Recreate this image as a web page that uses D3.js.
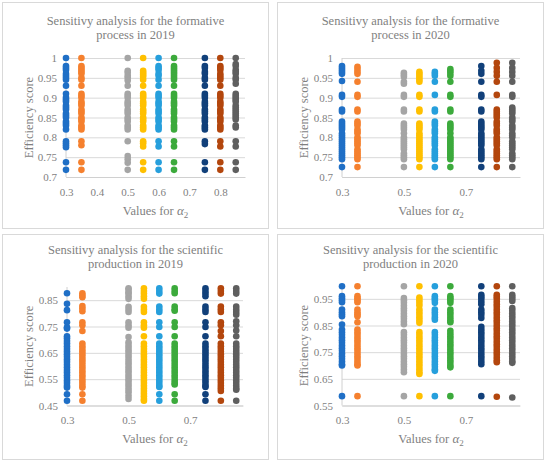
<!DOCTYPE html>
<html>
<head>
<meta charset="utf-8">
<script src="https://cdn.jsdelivr.net/npm/d3@7"></script>
<style>
  body { margin: 0; background: #fff; }
  svg text { font-family: "Liberation Serif", "Times New Roman", serif; fill: #7f7f7f; }
</style>
</head>
<body>
<svg width="550" height="466"></svg>
<script>
  // alpha_2 values, one column of points per value
  const alphaValues = [0.3, 0.35, 0.5, 0.55, 0.6, 0.65, 0.75, 0.8, 0.85];
  const seriesColors = ['#1f6fc6', '#f5802e', '#a5a5a5', '#ffc000', '#269fdc', '#3caa3c', '#11407a', '#b3460d', '#5f5f5f'];

  const formative2019 = [
    [1, 0.98, 0.975, 0.97, 0.96, 0.955, 0.95, 0.945, 0.93, 0.91, 0.9, 0.895, 0.89, 0.88, 0.875, 0.87, 0.86, 0.855, 0.85, 0.84, 0.835, 0.83, 0.82, 0.79, 0.785, 0.78, 0.775, 0.737, 0.718],
    [1, 0.98, 0.975, 0.97, 0.965, 0.96, 0.95, 0.945, 0.93, 0.91, 0.905, 0.9, 0.89, 0.885, 0.88, 0.87, 0.865, 0.86, 0.85, 0.845, 0.84, 0.83, 0.825, 0.82, 0.79, 0.78, 0.737, 0.718],
    [1, 0.968, 0.963, 0.955, 0.95, 0.943, 0.93, 0.91, 0.905, 0.9, 0.89, 0.885, 0.88, 0.87, 0.865, 0.86, 0.85, 0.845, 0.84, 0.83, 0.825, 0.82, 0.79, 0.753, 0.745, 0.736, 0.718],
    [1, 0.968, 0.963, 0.958, 0.953, 0.945, 0.93, 0.91, 0.905, 0.9, 0.89, 0.885, 0.88, 0.87, 0.865, 0.86, 0.85, 0.845, 0.84, 0.83, 0.825, 0.82, 0.79, 0.785, 0.777, 0.737, 0.718],
    [1, 0.98, 0.975, 0.97, 0.96, 0.955, 0.945, 0.93, 0.91, 0.905, 0.9, 0.89, 0.885, 0.88, 0.87, 0.865, 0.86, 0.85, 0.845, 0.84, 0.83, 0.825, 0.82, 0.79, 0.777, 0.737, 0.718],
    [1, 0.98, 0.975, 0.97, 0.965, 0.96, 0.955, 0.95, 0.945, 0.93, 0.91, 0.905, 0.9, 0.89, 0.885, 0.88, 0.87, 0.865, 0.86, 0.85, 0.845, 0.84, 0.83, 0.825, 0.82, 0.79, 0.777, 0.737, 0.718],
    [1, 0.98, 0.975, 0.965, 0.96, 0.95, 0.945, 0.93, 0.91, 0.905, 0.9, 0.89, 0.885, 0.88, 0.87, 0.865, 0.86, 0.85, 0.845, 0.84, 0.83, 0.825, 0.82, 0.79, 0.783, 0.737, 0.718],
    [1, 0.98, 0.975, 0.97, 0.96, 0.955, 0.95, 0.945, 0.93, 0.91, 0.905, 0.9, 0.89, 0.885, 0.88, 0.87, 0.865, 0.86, 0.85, 0.845, 0.84, 0.83, 0.825, 0.82, 0.79, 0.777, 0.737, 0.718],
    [1, 0.985, 0.98, 0.97, 0.965, 0.96, 0.95, 0.945, 0.935, 0.91, 0.905, 0.9, 0.895, 0.89, 0.88, 0.875, 0.87, 0.865, 0.86, 0.855, 0.85, 0.845, 0.83, 0.825, 0.79, 0.777, 0.737, 0.718]
  ];

  const formative2020 = [
    [0.98, 0.975, 0.97, 0.965, 0.96, 0.942, 0.907, 0.902, 0.87, 0.865, 0.84, 0.835, 0.83, 0.825, 0.82, 0.81, 0.805, 0.8, 0.795, 0.79, 0.785, 0.78, 0.775, 0.77, 0.765, 0.76, 0.755, 0.75, 0.745, 0.725],
    [0.978, 0.972, 0.966, 0.96, 0.94, 0.907, 0.902, 0.87, 0.865, 0.84, 0.835, 0.83, 0.82, 0.815, 0.81, 0.8, 0.795, 0.79, 0.785, 0.78, 0.77, 0.765, 0.76, 0.755, 0.75, 0.745, 0.725],
    [0.963, 0.958, 0.953, 0.94, 0.935, 0.907, 0.902, 0.87, 0.865, 0.835, 0.83, 0.825, 0.82, 0.81, 0.8, 0.795, 0.79, 0.785, 0.78, 0.775, 0.77, 0.76, 0.755, 0.75, 0.745, 0.725],
    [0.965, 0.96, 0.955, 0.95, 0.945, 0.94, 0.907, 0.902, 0.87, 0.865, 0.835, 0.83, 0.825, 0.82, 0.81, 0.805, 0.8, 0.795, 0.79, 0.785, 0.78, 0.775, 0.77, 0.765, 0.76, 0.755, 0.75, 0.745, 0.725],
    [0.965, 0.96, 0.955, 0.94, 0.907, 0.87, 0.865, 0.84, 0.835, 0.83, 0.82, 0.815, 0.81, 0.8, 0.795, 0.79, 0.785, 0.78, 0.77, 0.765, 0.76, 0.755, 0.75, 0.745, 0.725],
    [0.972, 0.967, 0.962, 0.955, 0.94, 0.907, 0.902, 0.87, 0.865, 0.835, 0.83, 0.825, 0.82, 0.81, 0.8, 0.795, 0.79, 0.785, 0.78, 0.775, 0.77, 0.765, 0.76, 0.755, 0.75, 0.745, 0.725],
    [0.98, 0.968, 0.96, 0.94, 0.907, 0.902, 0.87, 0.865, 0.84, 0.835, 0.83, 0.825, 0.82, 0.81, 0.805, 0.8, 0.795, 0.79, 0.785, 0.78, 0.77, 0.765, 0.76, 0.755, 0.75, 0.745, 0.725],
    [0.988, 0.975, 0.965, 0.955, 0.94, 0.907, 0.87, 0.865, 0.86, 0.855, 0.85, 0.84, 0.835, 0.83, 0.82, 0.815, 0.81, 0.8, 0.795, 0.79, 0.785, 0.78, 0.77, 0.765, 0.76, 0.755, 0.75, 0.745, 0.725],
    [0.988, 0.975, 0.965, 0.955, 0.94, 0.907, 0.902, 0.875, 0.87, 0.865, 0.86, 0.85, 0.845, 0.84, 0.83, 0.825, 0.82, 0.81, 0.805, 0.8, 0.79, 0.785, 0.78, 0.775, 0.77, 0.76, 0.755, 0.75, 0.745, 0.725]
  ];

  const scientific2019 = [
    [0.876, 0.836, 0.812, 0.766, 0.747, 0.742, 0.713, 0.705, 0.695, 0.685, 0.675, 0.665, 0.655, 0.645, 0.635, 0.625, 0.615, 0.605, 0.595, 0.585, 0.575, 0.565, 0.555, 0.545, 0.535, 0.525, 0.518, 0.493, 0.468],
    [0.876, 0.868, 0.861, 0.828, 0.818, 0.808, 0.766, 0.755, 0.733, 0.685, 0.675, 0.665, 0.655, 0.645, 0.635, 0.625, 0.615, 0.605, 0.595, 0.585, 0.575, 0.565, 0.555, 0.545, 0.535, 0.525, 0.518, 0.493, 0.468],
    [0.895, 0.89, 0.88, 0.875, 0.865, 0.855, 0.825, 0.815, 0.805, 0.766, 0.755, 0.745, 0.71, 0.69, 0.68, 0.67, 0.66, 0.65, 0.64, 0.63, 0.62, 0.61, 0.6, 0.59, 0.58, 0.57, 0.56, 0.55, 0.54, 0.53, 0.52, 0.51, 0.5, 0.487, 0.475],
    [0.895, 0.885, 0.875, 0.865, 0.855, 0.825, 0.815, 0.805, 0.766, 0.755, 0.745, 0.713, 0.685, 0.675, 0.665, 0.655, 0.645, 0.635, 0.625, 0.615, 0.605, 0.595, 0.585, 0.575, 0.565, 0.555, 0.545, 0.535, 0.525, 0.515, 0.505, 0.495, 0.485, 0.475, 0.468],
    [0.895, 0.885, 0.875, 0.826, 0.815, 0.805, 0.766, 0.748, 0.713, 0.685, 0.675, 0.665, 0.655, 0.645, 0.635, 0.625, 0.615, 0.605, 0.595, 0.585, 0.575, 0.565, 0.555, 0.545, 0.535, 0.525, 0.52, 0.493, 0.468],
    [0.895, 0.885, 0.876, 0.826, 0.815, 0.81, 0.766, 0.748, 0.713, 0.685, 0.675, 0.665, 0.655, 0.645, 0.635, 0.625, 0.615, 0.605, 0.595, 0.585, 0.575, 0.565, 0.555, 0.545, 0.535, 0.53, 0.493, 0.468],
    [0.895, 0.885, 0.875, 0.865, 0.826, 0.815, 0.805, 0.766, 0.748, 0.713, 0.685, 0.675, 0.665, 0.655, 0.645, 0.635, 0.625, 0.615, 0.605, 0.595, 0.585, 0.575, 0.565, 0.555, 0.545, 0.535, 0.525, 0.52, 0.493, 0.468],
    [0.895, 0.885, 0.875, 0.826, 0.815, 0.805, 0.766, 0.755, 0.733, 0.713, 0.685, 0.675, 0.665, 0.655, 0.645, 0.635, 0.625, 0.615, 0.605, 0.595, 0.585, 0.575, 0.565, 0.555, 0.545, 0.535, 0.525, 0.515, 0.505, 0.468],
    [0.895, 0.885, 0.875, 0.826, 0.815, 0.805, 0.795, 0.77, 0.755, 0.735, 0.713, 0.685, 0.675, 0.665, 0.655, 0.645, 0.635, 0.625, 0.615, 0.605, 0.595, 0.585, 0.575, 0.565, 0.555, 0.545, 0.535, 0.525, 0.515, 0.51, 0.468]
  ];

  const scientific2020 = [
    [0.997, 0.96, 0.952, 0.945, 0.937, 0.91, 0.9, 0.892, 0.885, 0.854, 0.835, 0.825, 0.815, 0.805, 0.795, 0.785, 0.775, 0.765, 0.755, 0.745, 0.735, 0.725, 0.715, 0.705, 0.7, 0.585],
    [0.997, 0.96, 0.952, 0.945, 0.937, 0.91, 0.9, 0.892, 0.885, 0.862, 0.835, 0.825, 0.815, 0.805, 0.795, 0.785, 0.775, 0.765, 0.755, 0.745, 0.735, 0.725, 0.715, 0.705, 0.7, 0.585],
    [0.997, 0.953, 0.945, 0.935, 0.925, 0.915, 0.905, 0.895, 0.885, 0.875, 0.865, 0.855, 0.825, 0.815, 0.805, 0.795, 0.785, 0.775, 0.765, 0.755, 0.745, 0.735, 0.725, 0.715, 0.705, 0.695, 0.685, 0.675, 0.585],
    [0.997, 0.955, 0.945, 0.935, 0.925, 0.91, 0.9, 0.89, 0.88, 0.87, 0.86, 0.825, 0.815, 0.805, 0.795, 0.785, 0.775, 0.765, 0.755, 0.745, 0.735, 0.725, 0.715, 0.705, 0.695, 0.685, 0.675, 0.668, 0.585],
    [0.997, 0.96, 0.952, 0.945, 0.935, 0.91, 0.9, 0.89, 0.88, 0.872, 0.825, 0.815, 0.805, 0.795, 0.785, 0.775, 0.765, 0.755, 0.745, 0.735, 0.725, 0.715, 0.705, 0.695, 0.685, 0.68, 0.585],
    [0.997, 0.96, 0.952, 0.945, 0.935, 0.91, 0.9, 0.89, 0.88, 0.87, 0.862, 0.83, 0.82, 0.81, 0.8, 0.79, 0.78, 0.77, 0.76, 0.75, 0.74, 0.73, 0.72, 0.71, 0.7, 0.693, 0.585],
    [0.997, 0.965, 0.958, 0.95, 0.94, 0.93, 0.91, 0.9, 0.89, 0.878, 0.845, 0.835, 0.825, 0.815, 0.805, 0.795, 0.785, 0.775, 0.765, 0.755, 0.745, 0.735, 0.725, 0.715, 0.705, 0.585],
    [0.997, 0.965, 0.958, 0.95, 0.94, 0.93, 0.92, 0.91, 0.9, 0.89, 0.88, 0.87, 0.86, 0.85, 0.84, 0.83, 0.82, 0.81, 0.8, 0.79, 0.78, 0.77, 0.76, 0.75, 0.74, 0.73, 0.72, 0.712, 0.583],
    [0.997, 0.965, 0.958, 0.95, 0.942, 0.915, 0.905, 0.895, 0.885, 0.875, 0.865, 0.855, 0.845, 0.835, 0.825, 0.815, 0.805, 0.795, 0.785, 0.775, 0.765, 0.755, 0.745, 0.735, 0.725, 0.715, 0.71, 0.58]
  ];

  // tick labels
  const xTicksFine = [0.3, 0.4, 0.5, 0.6, 0.7, 0.8];
  const xTicksCoarse = [0.3, 0.5, 0.7];
  const yTicksFormative = [0.7, 0.75, 0.8, 0.85, 0.9, 0.95, 1];
  const yTicksSci2019 = [0.45, 0.55, 0.65, 0.75, 0.85];
  const yTicksSci2020 = [0.55, 0.65, 0.75, 0.85, 0.95];

  const titles = [
    ['Sensitivy analysis for the formative', 'process in 2019'],
    ['Sensitivy analysis for the formative', 'process in 2020'],
    ['Sensitivy analysis for the scientific', 'production in 2019'],
    ['Sensitivy analysis for the scientific', 'production in 2020']
  ];

  const svg = d3.select('svg');

  const panels = [
    { data: formative2019, title: titles[0], xTicks: xTicksFine, yTicks: yTicksFormative,
      box: [2.5, 2.5, 266, 226], plot: {left: 66, right: 245, top: 58, bottom: 177},
      xDomain: [0.3, 0.88], yDomain: [0.7, 1], titleY: 25 },
    { data: formative2020, title: titles[1], xTicks: xTicksCoarse, yTicks: yTicksFormative,
      box: [277.5, 2.5, 266, 226], plot: {left: 342, right: 520, top: 58, bottom: 177},
      xDomain: [0.3, 0.875], yDomain: [0.7, 1], titleY: 25 },
    { data: scientific2019, title: titles[2], xTicks: xTicksCoarse, yTicks: yTicksSci2019,
      box: [2.5, 234.5, 266, 225], plot: {left: 67, right: 243, top: 287, bottom: 405.5},
      xDomain: [0.3, 0.872], yDomain: [0.45, 0.9], titleY: 254 },
    { data: scientific2020, title: titles[3], xTicks: xTicksCoarse, yTicks: yTicksSci2020,
      box: [277.5, 234.5, 266, 225], plot: {left: 342, right: 520, top: 285.5, bottom: 405.5},
      xDomain: [0.3, 0.875], yDomain: [0.55, 1.0], titleY: 254 }
  ];

  const fmt = d3.format('~g');

  panels.forEach(p => {
    const g = svg.append('g');
    const [bx, by, bw, bh] = p.box;

    g.append('rect')
      .attr('x', bx).attr('y', by)
      .attr('width', bw).attr('height', bh)
      .attr('fill', '#fff')
      .attr('stroke', '#d9d9d9');

    const xScale = d3.scaleLinear().domain(p.xDomain).range([p.plot.left, p.plot.right]);
    const yScale = d3.scaleLinear().domain(p.yDomain).range([p.plot.bottom, p.plot.top]);

    // horizontal gridlines + y labels
    const yAxis = d3.axisLeft(yScale)
      .tickValues(p.yTicks)
      .tickFormat(fmt)
      .tickSize(-(p.plot.right - p.plot.left))
      .tickPadding(9);

    const yAxisG = g.append('g')
      .attr('transform', `translate(${p.plot.left},0)`)
      .call(yAxis);
    yAxisG.select('.domain').remove();
    yAxisG.selectAll('line').attr('stroke', '#d9d9d9');
    yAxisG.selectAll('text')
      .attr('fill', '#7f7f7f')
      .style('font-size', '11px')
      .style('font-family', '"Liberation Serif", serif');

    // x labels, no tick marks
    const xAxis = d3.axisBottom(xScale)
      .tickValues(p.xTicks)
      .tickFormat(fmt)
      .tickSize(0)
      .tickPadding(11);

    const xAxisG = g.append('g')
      .attr('transform', `translate(0,${p.plot.bottom})`)
      .call(xAxis);
    xAxisG.select('.domain').attr('stroke', '#d0d0d0');
    xAxisG.selectAll('text')
      .attr('fill', '#7f7f7f')
      .style('font-size', '11px')
      .style('font-family', '"Liberation Serif", serif');

    // vertical axis line
    g.append('line')
      .attr('x1', p.plot.left).attr('x2', p.plot.left)
      .attr('y1', p.plot.top).attr('y2', p.plot.bottom)
      .attr('stroke', '#d0d0d0');

    // points
    p.data.forEach((values, i) => {
      g.append('g').selectAll('circle')
        .data(values)
        .enter().append('circle')
          .attr('cx', xScale(alphaValues[i]))
          .attr('cy', d => yScale(d))
          .attr('r', 3.3)
          .attr('fill', seriesColors[i]);
    });

    // chart title
    const cx = bx + bw / 2;
    g.append('text')
      .attr('x', cx).attr('y', p.titleY)
      .attr('text-anchor', 'middle')
      .style('font-size', '12.5px')
      .text(p.title[0]);
    g.append('text')
      .attr('x', cx).attr('y', p.titleY + 14)
      .attr('text-anchor', 'middle')
      .style('font-size', '12.5px')
      .text(p.title[1]);

    // x axis title
    const xt = g.append('text')
      .attr('x', (p.plot.left + p.plot.right) / 2)
      .attr('y', p.plot.bottom + 37.5)
      .attr('text-anchor', 'middle')
      .style('font-size', '12.5px');
    xt.append('tspan').text('Values for ');
    xt.append('tspan').style('font-style', 'italic').style('font-size', '13px').text('α');
    xt.append('tspan').attr('dy', 3).style('font-size', '9px').text('2');

    // y axis title
    g.append('text')
      .attr('transform', `translate(${bx + 30},${(p.plot.top + p.plot.bottom) / 2}) rotate(-90)`)
      .attr('text-anchor', 'middle')
      .style('font-size', '12.5px')
      .text('Efficiency score');
  });
</script>
</body>
</html>
